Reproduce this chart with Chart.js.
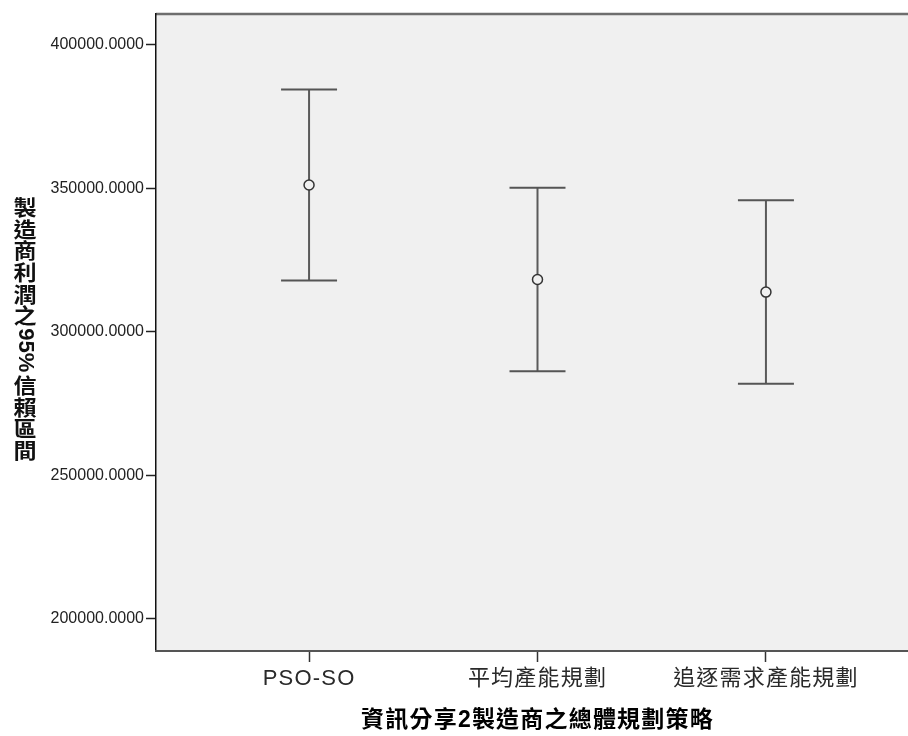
<!DOCTYPE html>
<html>
<head>
<meta charset="utf-8">
<script src="https://cdn.jsdelivr.net/npm/chart.js@4.4.1/dist/chart.umd.min.js"></script>
<style>
html,body{margin:0;padding:0;background:#fff;overflow:hidden;width:908px;height:736px;}
#wrap{position:absolute;left:0;top:0;width:919px;height:736px;}
</style>
</head>
<body>
<div id="wrap"><canvas id="c"></canvas></div>
<script>
// ---- data ----
const categories = ['PSO-SO', '平均產能規劃', '追逐需求產能規劃'];
const meanValues  = [351200, 318300, 313900];
const lowerValues = [317900, 286300, 282000];
const upperValues = [384500, 350300, 345900];
const yTickValues = [200000, 250000, 300000, 350000, 400000];
const xTitle = '資訊分享2製造商之總體規劃策略';
const yTitle = '製造商利潤之95%信賴區間';

const FONT = '"Liberation Sans", Arial, "Noto Sans CJK TC", sans-serif';
const PLOT_BG = '#f0f0f0';

const whiskerData = categories.flatMap((_, i) => [
  {x: i, y: lowerValues[i]}, {x: i, y: upperValues[i]}, {x: i, y: null}
]);
const capData = categories.flatMap((_, i) => [
  {x: i, y: upperValues[i]}, {x: i, y: lowerValues[i]}
]);
const meanData = categories.map((_, i) => ({x: i, y: meanValues[i]}));

const bgPlugin = {
  id: 'bg',
  beforeDraw(chart) {
    const {ctx, chartArea: a} = chart;
    ctx.save();
    ctx.letterSpacing = '0px';
    ctx.fillStyle = PLOT_BG;
    ctx.fillRect(a.left, a.top, a.right - a.left, a.bottom - a.top);
    ctx.strokeStyle = '#6e6e6e';
    ctx.lineWidth = 2.5;
    ctx.beginPath();
    ctx.moveTo(a.left, a.top);
    ctx.lineTo(a.right, a.top);
    ctx.stroke();
    ctx.restore();
  },
  afterDatasetsDraw(chart) {
    // x-axis labels / title are drawn after datasets (z:1): widen their spacing
    chart.ctx.letterSpacing = '1.2px';
  },
  afterDraw(chart) {
    const {ctx, chartArea: a} = chart;
    ctx.letterSpacing = '0px';
    ctx.save();
    ctx.fillStyle = '#111';
    ctx.textAlign = 'center';
    ctx.textBaseline = 'middle';
    const cjkFont = 'bold 21px "Noto Sans CJK TC", sans-serif';
    const latFont = 'bold 22px "Liberation Sans", Arial, sans-serif';
    const pitch = 21.7;
    const tokens = [];
    let run = '';
    for (const ch of Array.from(yTitle)) {
      if (/[\x00-\x7F]/.test(ch)) { run += ch; }
      else { if (run) { tokens.push({t: run, lat: true}); run = ''; } tokens.push({t: ch, lat: false}); }
    }
    if (run) tokens.push({t: run, lat: true});
    let total = 0;
    tokens.forEach(tk => {
      if (tk.lat) { ctx.font = latFont; tk.w = ctx.measureText(tk.t).width + 4; }
      else tk.w = pitch;
      total += tk.w;
    });
    const cx = 25;
    let y = (a.top + a.bottom) / 2 - 4 - total / 2;
    tokens.forEach(tk => {
      ctx.save();
      if (tk.lat) {
        ctx.font = latFont;
        ctx.translate(cx, y + tk.w / 2);
        ctx.rotate(Math.PI / 2);
        ctx.fillText(tk.t, 0, 0);
      } else {
        ctx.font = cjkFont;
        ctx.translate(cx, y + pitch / 2);
        ctx.scale(1.1, 1);
        ctx.fillText(tk.t, 0, 0);
      }
      ctx.restore();
      y += tk.w;
    });
    ctx.restore();
  }
};

new Chart(document.getElementById('c'), {
  data: {
    datasets: [
      {
        type: 'scatter', label: 'mean', data: meanData,
        pointStyle: 'circle', pointRadius: 5, pointBorderWidth: 1.5,
        borderColor: '#333', backgroundColor: PLOT_BG,
        pointBackgroundColor: PLOT_BG, pointBorderColor: '#333'
      },
      {
        type: 'scatter', label: 'caps', data: capData,
        pointStyle: 'line', pointRadius: 28, pointBorderWidth: 2,
        borderColor: '#555', pointBorderColor: '#555'
      },
      {
        type: 'line', label: 'ci', data: whiskerData,
        spanGaps: false, pointRadius: 0, borderWidth: 2,
        borderColor: '#5a5a5a', fill: false
      }
    ]
  },
  options: {
    responsive: true,
    maintainAspectRatio: false,
    animation: false,
    events: [],
    layout: {autoPadding: false, padding: {left: 0, right: 0, top: 14, bottom: 0}},
    plugins: {legend: {display: false}, tooltip: {enabled: false}},
    scales: {
      x: {
        type: 'linear', position: 'bottom',
        min: -0.67, max: 2.67,
        afterBuildTicks: (s) => { s.ticks = categories.map((_, i) => ({value: i})); },
        afterFit: (s) => { s.height = 85; },
        grid: {
          z: 1, drawOnChartArea: false, drawTicks: true,
          tickLength: 11, tickColor: '#333', tickWidth: 1.5, color: '#333'
        },
        border: {z: 1, display: true, color: '#555', width: 2},
        ticks: {
          z: 1, padding: 4, color: '#2a2a2a', maxRotation: 0, autoSkip: false,
          font: {family: FONT, size: 22},
          callback: (v) => categories[v] ?? ''
        },
        title: {
          display: true, text: xTitle, color: '#000',
          font: {family: FONT, size: 23, weight: 'bold'},
          padding: {top: 0, bottom: 2}
        }
      },
      y: {
        type: 'linear', position: 'left',
        min: 188850, max: 410800,
        afterBuildTicks: (s) => { s.ticks = yTickValues.map(v => ({value: v})); },
        afterFit: (s) => { s.width = 156; },
        grid: {
          drawOnChartArea: false, drawTicks: true,
          tickLength: 10, tickColor: '#222', tickWidth: 1.5, color: '#222'
        },
        border: {display: true, color: '#111', width: 1.5},
        ticks: {
          padding: 2, color: '#222',
          font: {family: FONT, size: 16},
          callback: (v) => Number(v).toFixed(4)
        }
      }
    }
  },
  plugins: [bgPlugin]
});
</script>
</body>
</html>
